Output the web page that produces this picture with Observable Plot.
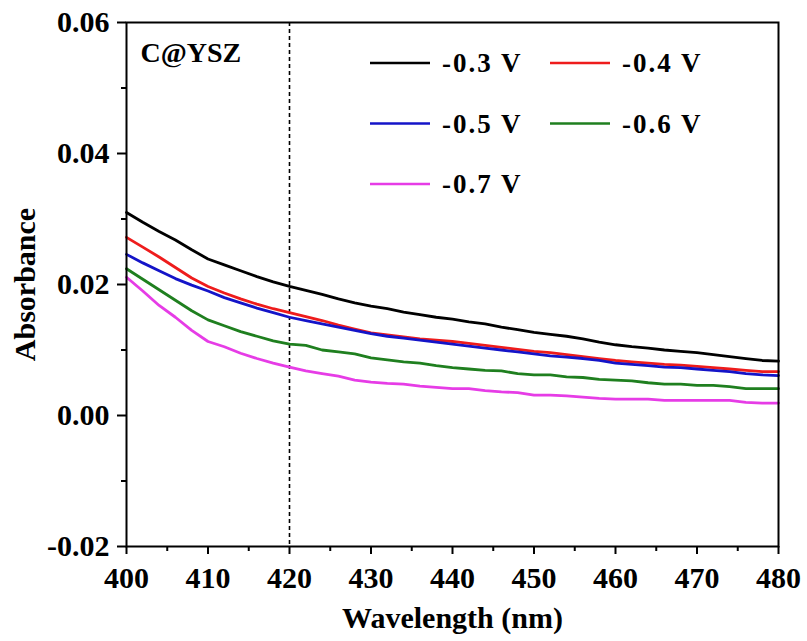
<!DOCTYPE html>
<html>
<head>
<meta charset="utf-8">
<script src="https://cdn.jsdelivr.net/npm/d3@7"></script>
<script src="https://cdn.jsdelivr.net/npm/@observablehq/plot@0.6"></script>
<style>
  html, body { margin: 0; padding: 0; background: #fff; }
  #chart { width: 807px; height: 641px; }
</style>
</head>
<body>
<div id="chart"></div>
<script>
// ---- data ----
const wavelength = [400,402,404,406,408,410,412,414,416,418,420,422,424,426,428,430,432,434,436,438,440,442,444,446,448,450,452,454,456,458,460,462,464,466,468,470,472,474,476,478,480];
const seriesNames = ["-0.3 V", "-0.4 V", "-0.5 V", "-0.6 V", "-0.7 V"];
const seriesColors = ["#000000", "#ee1c1c", "#1414c8", "#1f7f1f", "#e63ce6"];
const absM03 = [.0310,.0295,.0281,.0268,.0253,.0239,.0230,.0221,.0212,.0204,.0197,.0191,.0185,.0178,.0172,.0167,.0163,.0158,.0154,.0150,.0147,.0143,.0140,.0135,.0131,.0127,.0124,.0121,.0117,.0112,.0108,.0105,.0103,.0100,.0098,.0096,.0093,.0090,.0087,.0084,.0083];
const absM04 = [.0272,.0257,.0242,.0226,.0210,.0197,.0187,.0178,.0170,.0163,.0157,.0151,.0145,.0138,.0132,.0126,.0123,.0120,.0117,.0115,.0113,.0110,.0107,.0104,.0101,.0098,.0096,.0093,.0090,.0087,.0084,.0082,.0080,.0078,.0077,.0075,.0073,.0071,.0069,.0067,.0067];
const absM05 = [.0246,.0233,.0221,.0209,.0199,.0190,.0180,.0172,.0164,.0157,.0150,.0145,.0140,.0135,.0130,.0125,.0121,.0118,.0115,.0112,.0109,.0106,.0103,.0100,.0097,.0094,.0091,.0089,.0087,.0084,.0080,.0078,.0076,.0074,.0073,.0071,.0069,.0067,.0064,.0062,.0061];
const absM06 = [.0224,.0208,.0192,.0176,.0160,.0146,.0137,.0128,.0121,.0114,.0109,.0107,.0100,.0097,.0094,.0088,.0085,.0082,.0080,.0076,.0073,.0071,.0069,.0068,.0064,.0062,.0062,.0059,.0058,.0055,.0054,.0053,.0050,.0048,.0048,.0046,.0046,.0044,.0041,.0041,.0041];
const absM07 = [.0211,.0190,.0168,.0150,.0130,.0113,.0105,.0095,.0087,.0080,.0074,.0068,.0064,.0060,.0054,.0051,.0049,.0048,.0045,.0043,.0041,.0041,.0038,.0036,.0035,.0031,.0031,.0030,.0028,.0026,.0025,.0025,.0025,.0023,.0023,.0023,.0023,.0023,.0020,.0019,.0019];
const xMajorTicks = [400,410,420,430,440,450,460,470,480];
const xMinorTicks = [405,415,425,435,445,455,465,475];
const yMajorTicks = [-0.02,0.00,0.02,0.04,0.06];
const yMinorTicks = [-0.01,0.01,0.03,0.05];
const markerWavelength = [420];
const sampleLabel = "C@YSZ";
const xLabel = "Wavelength (nm)";
const yLabel = "Absorbance";

// ---- build table ----
const allSeries = [absM03, absM04, absM05, absM06, absM07];
const rows = [];
allSeries.forEach((vals, si) => {
  vals.forEach((v, i) => rows.push({wl: wavelength[i], a: v, s: seriesNames[si]}));
});

const FONT = "'Liberation Serif', 'Times New Roman', serif";
const margin = {top: 22, right: 29, bottom: 95, left: 126};
const fmtY = d => d3.format(".2f")(d).replace("\u2212", "-");

const chart = Plot.plot({
  width: 807,
  height: 641,
  marginTop: margin.top,
  marginRight: margin.right,
  marginBottom: margin.bottom,
  marginLeft: margin.left,
  style: {fontFamily: FONT, fontWeight: "bold", background: "#fff", color: "#000"},
  x: {domain: [400, 480]},
  y: {domain: [-0.02, 0.06]},
  color: {domain: seriesNames, range: seriesColors},
  marks: [
    Plot.ruleX(markerWavelength, {stroke: "#000", strokeWidth: 1.6, strokeDasharray: "4,3"}),
    Plot.line(rows, {x: "wl", y: "a", z: "s", stroke: "s", strokeWidth: 2.8, curve: "linear"}),
    Plot.frame({stroke: "#000", strokeWidth: 2}),
    Plot.axisX(xMajorTicks, {tickSize: 8, tickPadding: 12, fontSize: 30, letterSpacing: 1.5, strokeWidth: 2, label: null, tickFormat: d => d3.format("d")(d)}),
    Plot.axisX(xMinorTicks, {tickSize: 5, strokeWidth: 2, label: null, tickFormat: () => ""}),
    Plot.axisY(yMajorTicks, {tickSize: 9, tickPadding: 8, fontSize: 30, letterSpacing: 3, strokeWidth: 2, label: null, tickFormat: fmtY}),
    Plot.axisY(yMinorTicks, {tickSize: 5, strokeWidth: 2, label: null, tickFormat: () => ""}),
    Plot.text([xLabel], {frameAnchor: "bottom", dy: 72, lineAnchor: "middle", textAnchor: "middle", text: d => d, fontSize: 30, fontWeight: "bold", letterSpacing: 2.5}),
    Plot.text([yLabel], {frameAnchor: "left", dx: -101, rotate: -90, lineAnchor: "middle", textAnchor: "middle", text: d => d, fontSize: 30, fontWeight: "bold", letterSpacing: 3}),
    Plot.text([sampleLabel], {frameAnchor: "top-left", dx: 14, dy: 20, lineAnchor: "top", textAnchor: "start", text: d => d, fontSize: 28, fontWeight: "bold", letterSpacing: 1})
  ]
});
document.getElementById("chart").appendChild(chart);

// ---- legend (inside the plot, top-right) ----
const svg = d3.select(chart);
const leg = svg.append("g").attr("font-family", FONT).attr("font-weight", "bold").attr("font-size", 27)
  .attr("text-anchor", "start").attr("letter-spacing", 2);
const legX0 = 370, legY0 = 63, colW = 180, rowH = 60.5, lineLen = 60;
seriesNames.forEach((name, i) => {
  const col = i % 2, row = Math.floor(i / 2);
  const x = legX0 + col * colW, y = legY0 + row * rowH;
  leg.append("line").attr("x1", x).attr("x2", x + lineLen).attr("y1", y).attr("y2", y)
    .attr("stroke", seriesColors[i]).attr("stroke-width", 2.6);
  leg.append("text").attr("x", x + lineLen + 12).attr("y", y).attr("dy", "0.35em")
    .attr("fill", "#000").text(name);
});
</script>
</body>
</html>
